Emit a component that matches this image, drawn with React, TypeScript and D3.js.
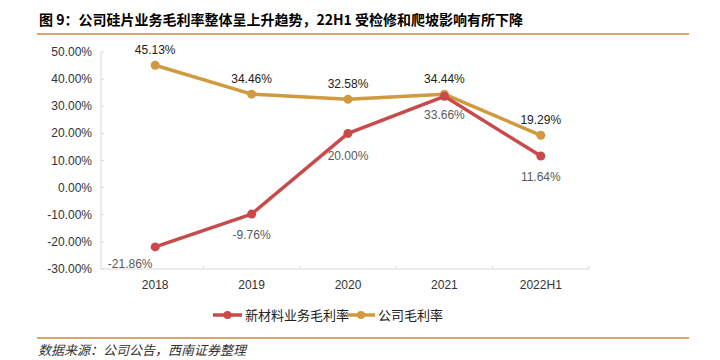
import React from "react";
import * as d3 from "d3";

const categories = ["2018", "2019", "2020", "2021", "2022H1"];
const newMaterialMargin = [-21.86, -9.76, 20.0, 33.66, 11.64];
const companyMargin = [45.13, 34.46, 32.58, 34.44, 19.29];
const yTicks = [50, 40, 30, 20, 10, 0, -10, -20, -30];
const seriesNames = ["新材料业务毛利率", "公司毛利率"];
const titleText = "图 9：公司硅片业务毛利率整体呈上升趋势，22H1 受检修和爬坡影响有所下降";
const sourceText = "数据来源：公司公告，西南证券整理";

const W = 720;
const H = 360;
const RED = "#c84a4b";
const GOLD = "#d09a41";
const FONT = "'Liberation Sans', Arial, sans-serif";
const CJK = "'Noto Sans CJK SC', sans-serif";

export default function App() {
  const x = d3.scaleBand<string>().domain(categories).range([107, 589]);
  const y = d3.scaleLinear().domain([-30, 50]).range([269, 52]);
  const cx = (c: string) => (x(c) as number) + x.bandwidth() / 2;

  const line = d3
    .line<number>()
    .x((_, i) => cx(categories[i]))
    .y((d) => y(d));

  const redLabelOffset = [
    { dx: -25, dy: 21 },
    { dx: 0, dy: 25 },
    { dx: 0, dy: 27 },
    { dx: 0, dy: 23 },
    { dx: 0, dy: 25 },
  ];

  return (
    <svg width={W} height={H} style={{ position: "absolute", left: 0, top: 0, background: "#fff" }}>
      <rect x={0} y={0} width={W} height={H} fill="#fff" />
      <text x={39} y={25} fontFamily={CJK} fontSize={14} fontWeight="bold" fill="#000">
        {titleText}
      </text>
      <line x1={37} x2={689} y1={34} y2={34} stroke="#d4a86a" strokeWidth={2} />

      {/* y axis */}
      <line x1={101} x2={101} y1={y(50)} y2={y(-30)} stroke="#d9d9d9" strokeWidth={1} />
      {yTicks.map((t) => (
        <g key={t}>
          <line x1={101} x2={104} y1={y(t)} y2={y(t)} stroke="#d9d9d9" />
          <text x={92} y={y(t) + 4} textAnchor="end" fontFamily={FONT} fontSize={12} fill="#333">
            {t.toFixed(2) + "%"}
          </text>
        </g>
      ))}
      {/* x axis */}
      <line x1={101} x2={589} y1={y(-30)} y2={y(-30)} stroke="#d9d9d9" strokeWidth={1} />
      {categories.map((c, i) => (
        <g key={c}>
          {i > 0 && (
            <line x1={x(c)} x2={x(c)} y1={y(-30)} y2={y(-30) - 3} stroke="#d9d9d9" />
          )}
          <text x={cx(c)} y={289} textAnchor="middle" fontFamily={FONT} fontSize={12} fill="#333">
            {c}
          </text>
        </g>
      ))}
      <line x1={589} x2={589} y1={y(-30)} y2={y(-30) - 3} stroke="#d9d9d9" />

      {/* lines */}
      <path d={line(companyMargin) || ""} fill="none" stroke={GOLD} strokeWidth={3.5} strokeLinejoin="round" />
      <path d={line(newMaterialMargin) || ""} fill="none" stroke={RED} strokeWidth={3.5} strokeLinejoin="round" />
      {companyMargin.map((v, i) => (
        <circle key={"g" + i} cx={cx(categories[i])} cy={y(v)} r={4.5} fill={GOLD} />
      ))}
      {newMaterialMargin.map((v, i) => (
        <circle key={"r" + i} cx={cx(categories[i])} cy={y(v)} r={4.5} fill={RED} />
      ))}

      {/* labels */}
      {companyMargin.map((v, i) => (
        <text
          key={"gl" + i}
          x={cx(categories[i])}
          y={y(v) - 11}
          textAnchor="middle"
          fontFamily={FONT}
          fontSize={12}
          fill="#222"
        >
          {v.toFixed(2) + "%"}
        </text>
      ))}
      {newMaterialMargin.map((v, i) => (
        <text
          key={"rl" + i}
          x={cx(categories[i]) + redLabelOffset[i].dx}
          y={y(v) + redLabelOffset[i].dy}
          textAnchor="middle"
          fontFamily={FONT}
          fontSize={12}
          fill="#595959"
        >
          {v.toFixed(2) + "%"}
        </text>
      ))}

      {/* legend */}
      <g>
        <line x1={213} x2={242} y1={315} y2={315} stroke={RED} strokeWidth={3.5} />
        <circle cx={227.5} cy={315} r={4} fill={RED} />
        <text x={245} y={320} fontFamily={CJK} fontSize={13} fill="#222">
          {seriesNames[0]}
        </text>
        <line x1={347} x2={375} y1={315} y2={315} stroke={GOLD} strokeWidth={3.5} />
        <circle cx={361} cy={315} r={4} fill={GOLD} />
        <text x={378} y={320} fontFamily={CJK} fontSize={13} fill="#222">
          {seriesNames[1]}
        </text>
      </g>

      <line x1={37} x2={689} y1={338} y2={338} stroke="#d4a86a" strokeWidth={2} />
      <text x={38} y={355} fontFamily={CJK} fontSize={13} fontStyle="italic" fill="#333">
        {sourceText}
      </text>
    </svg>
  );
}
